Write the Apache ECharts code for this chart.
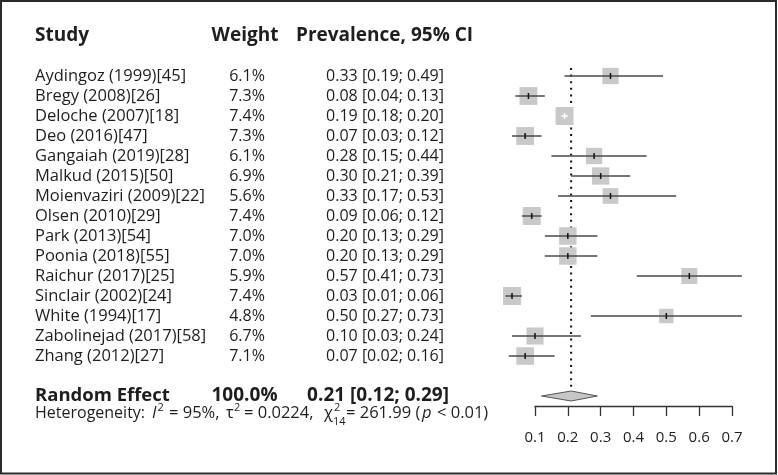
<!DOCTYPE html>
<html>
<head>
<meta charset="utf-8">
<title>forest plot</title>
<script src="https://cdn.jsdelivr.net/npm/echarts@6/dist/echarts.min.js"></script>
<style>
  html, body { margin: 0; padding: 0; background: #fff; }
  #main { width: 778px; height: 475px; }
</style>
</head>
<body>
<div id="main"></div>
<script>
// study data
var studies = ['Aydingoz (1999)[45]', 'Bregy (2008)[26]', 'Deloche (2007)[18]', 'Deo (2016)[47]',
  'Gangaiah (2019)[28]', 'Malkud (2015)[50]', 'Moienvaziri (2009)[22]', 'Olsen (2010)[29]',
  'Park (2013)[54]', 'Poonia (2018)[55]', 'Raichur (2017)[25]', 'Sinclair (2002)[24]',
  'White (1994)[17]', 'Zabolinejad (2017)[58]', 'Zhang (2012)[27]'];
var weights = [6.1, 7.3, 7.4, 7.3, 6.1, 6.9, 5.6, 7.4, 7.0, 7.0, 5.9, 7.4, 4.8, 6.7, 7.1];
var estimates = [0.33, 0.08, 0.19, 0.07, 0.28, 0.30, 0.33, 0.09, 0.20, 0.20, 0.57, 0.03, 0.50, 0.10, 0.07];
var lowerCI = [0.19, 0.04, 0.18, 0.03, 0.15, 0.21, 0.17, 0.06, 0.13, 0.13, 0.41, 0.01, 0.27, 0.03, 0.02];
var upperCI = [0.49, 0.13, 0.20, 0.12, 0.44, 0.39, 0.53, 0.12, 0.29, 0.29, 0.73, 0.06, 0.73, 0.24, 0.16];
var pooled = [0.21, 0.12, 0.29];   // estimate, lower, upper
var pooledWeight = '100.0%';
var headers = ['Study', 'Weight', 'Prevalence, 95% CI'];
var xTicks = [0.1, 0.2, 0.3, 0.4, 0.5, 0.6, 0.7];

var FONT = '"Open Sans", "Noto Sans", sans-serif';
var TXT = '#1e1e1e';
var HEADER_ROW = -2, POOLED_ROW = 16, HET_ROW = 16.85;

function fmt(v) { return v.toFixed(2); }

// build row data
var studyData = studies.map(function (s, i) {
  return [estimates[i], lowerCI[i], upperCI[i], i, weights[i]];
});
var tableRows = [{ row: HEADER_ROW, cells: headers, kind: 'header' }];
studies.forEach(function (s, i) {
  tableRows.push({ row: i, kind: 'study',
    cells: [s, weights[i].toFixed(1) + '%', fmt(estimates[i]) + ' [' + fmt(lowerCI[i]) + '; ' + fmt(upperCI[i]) + ']'] });
});
tableRows.push({ row: POOLED_ROW, kind: 'pooled',
  cells: ['Random Effect', pooledWeight, fmt(pooled[0]) + ' [' + fmt(pooled[1]) + '; ' + fmt(pooled[2]) + ']'] });
tableRows.push({ row: HET_ROW, kind: 'het', cells: [] });

// heterogeneity line pieces (x = left edge in px)
var hetParts = [
  { t: 'Heterogeneity:', x: 35, size: 16 },
  { t: 'I', x: 152, it: true },
  { t: '2', x: 157.5, sup: true },
  { t: '= 95%,', x: 169 },
  { t: '\u03c4', x: 226 },
  { t: '2', x: 234, sup: true },
  { t: '= 0.0224,', x: 244 },
  { t: '\u03c7', x: 324 },
  { t: '2', x: 334, sup: true, sub: '14' },
  { t: '= 261.99 (', x: 346 },
  { t: 'p', x: 422, it: true },
  { t: '< 0.01)', x: 437 }
];

var chart = echarts.init(document.getElementById('main'));

function renderTable(params, api) {
  var r = tableRows[params.dataIndex];
  var y = api.coord([0.1, r.row])[1];
  var kids = [];
  function txt(s, x, yy, align, size, weight, italic) {
    kids.push({ type: 'text', x: x, y: yy, style: {
      text: s, fill: TXT, align: align, verticalAlign: 'middle',
      fontFamily: FONT, fontSize: size, fontWeight: weight || 'normal',
      fontStyle: italic ? 'italic' : 'normal' } });
  }
  if (r.kind === 'header') {
    txt(r.cells[0], 35, y, 'left', 19, 'bold');
    txt(r.cells[1], 245, y, 'center', 19, 'bold');
    txt(r.cells[2], 296, y, 'left', 19, 'bold');
  } else if (r.kind === 'study') {
    txt(r.cells[0], 35, y, 'left', 16.5);
    txt(r.cells[1], 247, y, 'center', 16);
    txt(r.cells[2], 444, y, 'right', 16);
  } else if (r.kind === 'pooled') {
    txt(r.cells[0], 35, y, 'left', 18.5, 'bold');
    txt(r.cells[1], 244.5, y, 'center', 19, 'bold');
    txt(r.cells[2], 449, y, 'right', 19, 'bold');
  } else {
    hetParts.forEach(function (p) {
      if (p.sup) {
        txt(p.t, p.x, y - 5, 'left', 11);
        if (p.sub) txt(p.sub, p.x - 1, y + 9, 'left', 11);
      } else {
        txt(p.t, p.x, y, 'left', p.size || 16.5, 'normal', p.it);
      }
    });
  }
  return { type: 'group', children: kids };
}

function renderStudy(params, api) {
  var m = api.value(0), lo = api.value(1), hi = api.value(2), row = api.value(3), w = api.value(4);
  var c = api.coord([m, row]);
  var pl = api.coord([lo, row]);
  var ph = api.coord([hi, row]);
  var side = 6.6 * Math.sqrt(w);
  // CI drawn white when it fits inside the box
  var inside = pl[0] >= c[0] - side / 2 && ph[0] <= c[0] + side / 2;
  return { type: 'group', children: [
    { type: 'rect', shape: { x: c[0] - side / 2, y: c[1] - side / 2, width: side, height: side },
      style: { fill: '#c9c9c9' } },
    { type: 'line', shape: { x1: pl[0], y1: c[1], x2: ph[0], y2: c[1] },
      style: { stroke: inside ? '#fff' : '#4a4a4a', lineWidth: 1.5 } },
    { type: 'line', shape: { x1: c[0], y1: c[1] - 3, x2: c[0], y2: c[1] + 3 },
      style: { stroke: inside ? '#fff' : '#111', lineWidth: 1.5 } }
  ] };
}

function renderPooled(params, api) {
  var m = api.coord([api.value(0), POOLED_ROW]);
  var l = api.coord([api.value(1), POOLED_ROW]);
  var h = api.coord([api.value(2), POOLED_ROW]);
  var top = api.coord([api.value(0), -0.4]);
  var half = 5;
  return { type: 'group', children: [
    { type: 'line', shape: { x1: m[0], y1: top[1], x2: m[0], y2: m[1] - half },
      style: { stroke: '#111', lineWidth: 2, lineDash: [2, 4.6] } },
    { type: 'polygon', shape: { points: [[l[0], m[1]], [m[0], m[1] - half], [h[0], m[1]], [m[0], m[1] + half]] },
      style: { fill: '#c6c6c6', stroke: '#555', lineWidth: 1 } }
  ] };
}

var option = {
  animation: false,
  backgroundColor: '#fff',
  grid: { left: 535, right: 46, top: 36, bottom: 69 },
  xAxis: {
    type: 'value', position: 'bottom', min: xTicks[0], max: xTicks[xTicks.length - 1], interval: 0.1,
    axisLine: { onZero: false, lineStyle: { color: '#333', width: 1.3 } },
    axisTick: { length: 10, lineStyle: { color: '#333', width: 1.3 } },
    axisLabel: { fontFamily: FONT, fontSize: 15, color: TXT, margin: 24,
      formatter: function (v) { return v.toFixed(1); } },
    splitLine: { show: false }
  },
  yAxis: { type: 'value', min: -2, max: 16.5, inverse: true, show: false },
  graphic: [{ type: 'rect', shape: { x: 1, y: 1, width: 775, height: 472.5 },
    style: { fill: null, stroke: '#2b2b2b', lineWidth: 2 }, z: 100 }],
  series: [
    { type: 'custom', clip: false, renderItem: renderPooled, data: [pooled], z: 1,
      encode: { x: [0, 1, 2], y: -1 } },
    { type: 'custom', clip: false, renderItem: renderStudy, data: studyData, z: 2,
      encode: { x: [0, 1, 2], y: 3 } },
    { type: 'custom', clip: false, renderItem: renderTable, z: 3,
      data: tableRows.map(function (r, i) { return [i]; }), encode: { x: -1, y: -1 } }
  ]
};
chart.setOption(option);
</script>
</body>
</html>
